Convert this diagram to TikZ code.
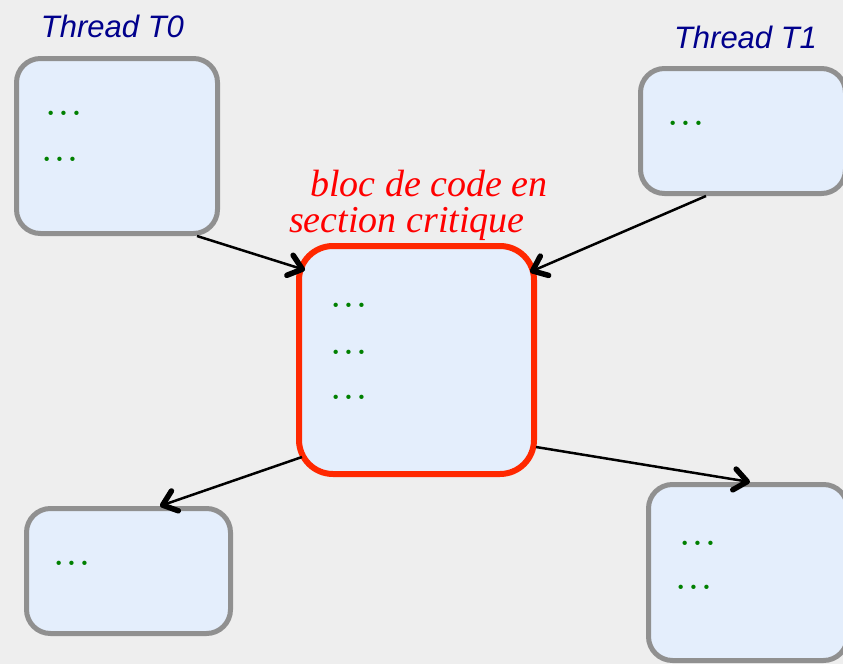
\documentclass[tikz,border=0pt]{standalone}
\usepackage{fontspec}
\usetikzlibrary{arrows.meta}
\newfontfamily\hvfont{Liberation Sans}
\newfontfamily\tmfont{Liberation Serif}
\definecolor{bgc}{RGB}{238,238,238}
\definecolor{boxfill}{RGB}{228,238,252}
\definecolor{boxgray}{RGB}{144,144,144}
\definecolor{critred}{RGB}{255,40,0}
\definecolor{textred}{RGB}{255,0,0}
\definecolor{dotgreen}{RGB}{0,128,0}
\definecolor{thblue}{RGB}{0,0,140}
\newcommand{\mydots}{.\kern3.4pt.\kern3.4pt.}
\begin{document}
\begin{tikzpicture}[x=1pt,y=-1pt,
  box/.style={draw=boxgray, line width=5pt, fill=boxfill, rounded corners=24pt, inner sep=0pt},
  critbox/.style={draw=critred, line width=6pt, fill=boxfill, rounded corners=34pt, inner sep=0pt},
  dots/.style={text=dotgreen, font=\bfseries\fontsize{30}{34}\selectfont, inner sep=0pt, anchor=west},
  thlabel/.style={text=thblue, font=\hvfont\itshape\fontsize{31}{36}\selectfont, inner sep=0pt, anchor=base},
  critlabel/.style={text=textred, font=\tmfont\itshape\fontsize{38}{40}\selectfont, inner sep=0pt, anchor=base west},
  arr/.style={line width=2.5pt, -{Straight Barb[length=13pt,width=21pt,line width=5.5pt,round]}}
]
\useasboundingbox (0,0) rectangle (843,664);
\clip (0,0) rectangle (843,664);
\fill[bgc] (0,0) rectangle (843,664);

% boxes
\node[box, minimum width=201pt, minimum height=175pt] (t0) at (117,146) {};
\node[box, minimum width=205pt, minimum height=125pt] (t1) at (743,131) {};
\node[critbox, minimum width=235pt, minimum height=228pt] (c) at (416.5,360) {};
\node[box, minimum width=204pt, minimum height=125pt] (bl) at (128.5,571) {};
\node[box, minimum width=199pt, minimum height=176pt] (br) at (748,572.5) {};

% labels
\node[thlabel] (l0) at (112.5,37) {Thread T0};
\node[thlabel] (l1) at (745.5,48) {Thread T1};
\node[critlabel] (cl1) at (310,196) {bloc de code en};
\node[critlabel] (cl2) at (289,232) {section critique};

% dots
\node[dots] (d1) at (46,113) {\mydots};
\node[dots] (d2) at (42,159) {\mydots};
\node[dots] (d3) at (331,305) {\mydots};
\node[dots] (d4) at (331,352) {\mydots};
\node[dots] (d5) at (331,397) {\mydots};
\node[dots] (d6) at (668,123) {\mydots};
\node[dots] (d7) at (54,563) {\mydots};
\node[dots] (d8) at (680,543) {\mydots};
\node[dots] (d9) at (676,587) {\mydots};

% arrows
\draw[arr] ([xshift=-23pt]t0.south east) -- ([xshift=9pt,yshift=-27pt]c.north west);
\draw[arr] ([xshift=68pt]t1.south west) -- ([xshift=-7pt,yshift=-29pt]c.north east);
\draw[arr] ([xshift=6pt,yshift=20pt]c.south west) -- ([xshift=136pt]bl.north west);
\draw[arr] ([xshift=-1pt,yshift=30pt]c.south east) -- ([xshift=104pt]br.north west);
\end{tikzpicture}
\end{document}
